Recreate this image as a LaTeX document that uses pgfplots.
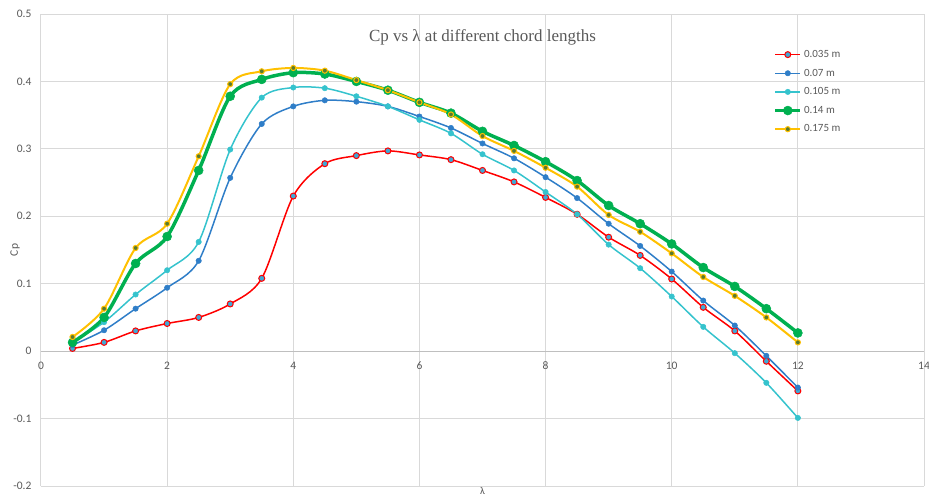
\documentclass[border=0pt]{standalone}
\usepackage{fontspec}
\setmainfont{Carlito}
\newfontfamily\titlefont{Liberation Serif}
\usepackage{pgfplots}
\pgfplotsset{compat=1.18}

\definecolor{sred}{HTML}{FF0000}
\definecolor{sredfill}{HTML}{3FA9D6}
\definecolor{sblue}{HTML}{2F7EC8}
\definecolor{scyan}{HTML}{35C3CD}
\definecolor{sgreen}{HTML}{00B050}
\definecolor{syellow}{HTML}{FFC000}
\definecolor{syellowfill}{HTML}{5A7A2E}
\definecolor{txtgray}{HTML}{595959}
\definecolor{gridgray}{HTML}{D9D9D9}
\definecolor{zerogray}{HTML}{BFBFBF}

\begin{document}
\begin{tikzpicture}
\begin{axis}[
    width=883pt, height=472pt,
    scale only axis,
    at={(0pt,0pt)},
    xmin=0, xmax=14,
    ymin=-0.2, ymax=0.5,
    xtick={0,2,4,6,8,10,12,14},
    ytick={-0.2,-0.1,0,0.1,0.2,0.3,0.4,0.5},
    hide obscured x ticks=false,
    hide obscured y ticks=false,
    axis x line=middle,
    axis y line=left,
    x axis line style={draw=zerogray, line width=1pt, -},
    y axis line style={draw=gridgray, line width=1pt, -},
    major tick length=0pt,
    grid=major,
    major grid style={draw=gridgray, line width=1pt},
    /pgf/number format/assume math mode=true,
    ticklabel style={font=\fontsize{11.5}{13}\selectfont, text=txtgray},
    xticklabel style={yshift=-7pt},
    yticklabel style={xshift=-6pt,
        /pgf/number format/fixed, /pgf/number format/precision=1},
    xlabel={λ},
    ylabel={Cp},
    xlabel style={at={(axis description cs:0.5,0)}, anchor=north,
        font=\fontsize{10.5}{12}\selectfont, text=txtgray, inner sep=1pt},
    ylabel style={at={(axis description cs:-0.0294,0.5)}, anchor=center,
        font=\fontsize{11.5}{13}\selectfont, text=txtgray},
    legend style={at={(axis description cs:0.826,0.932)}, anchor=north west,
        draw=none, fill=none, font=\fontsize{11}{12}\selectfont,
        text=txtgray, row sep=6pt, legend cell align=left},
    legend image code/.code={
        \draw[mark repeat=2, mark phase=2, #1]
            plot coordinates {(0pt,0pt) (12.5pt,0pt) (25pt,0pt)};
    },
]

\addplot[sred, line width=1.5pt, smooth, tension=0.5, mark=*, mark size=3pt,
    mark options={fill=sredfill, draw=sred, line width=1pt}]
table {
0.5 0.004
1 0.013
1.5 0.030
2 0.041
2.5 0.050
3 0.070
3.5 0.108
4 0.230
4.5 0.278
5 0.290
5.5 0.297
6 0.291
6.5 0.284
7 0.268
7.5 0.251
8 0.228
8.5 0.203
9 0.169
9.5 0.142
10 0.107
10.5 0.065
11 0.030
11.5 -0.015
12 -0.059
};
\addlegendentry{0.035 m}

\addplot[sblue, line width=1.5pt, smooth, tension=0.5, mark=*, mark size=2.7pt,
    mark options={fill=sblue, draw=sblue, line width=0.5pt}]
table {
0.5 0.009
1 0.031
1.5 0.063
2 0.094
2.5 0.134
3 0.257
3.5 0.337
4 0.363
4.5 0.372
5 0.370
5.5 0.363
6 0.348
6.5 0.331
7 0.308
7.5 0.286
8 0.258
8.5 0.227
9 0.189
9.5 0.156
10 0.118
10.5 0.075
11 0.038
11.5 -0.007
12 -0.054
};
\addlegendentry{0.07 m}

\addplot[scyan, line width=1.5pt, smooth, tension=0.5, mark=*, mark size=2.7pt,
    mark options={fill=scyan, draw=scyan, line width=0.5pt}]
table {
0.5 0.013
1 0.043
1.5 0.084
2 0.120
2.5 0.162
3 0.299
3.5 0.376
4 0.391
4.5 0.390
5 0.378
5.5 0.363
6 0.343
6.5 0.323
7 0.292
7.5 0.268
8 0.236
8.5 0.203
9 0.158
9.5 0.123
10 0.081
10.5 0.036
11 -0.003
11.5 -0.047
12 -0.099
};
\addlegendentry{0.105 m}

\addplot[sgreen, line width=3.5pt, smooth, tension=0.5, mark=*, mark size=4.5pt,
    mark options={fill=sgreen, draw=sgreen, line width=0.5pt}]
table {
0.5 0.013
1 0.050
1.5 0.130
2 0.170
2.5 0.268
3 0.378
3.5 0.403
4 0.413
4.5 0.411
5 0.400
5.5 0.387
6 0.369
6.5 0.353
7 0.326
7.5 0.305
8 0.281
8.5 0.253
9 0.216
9.5 0.189
10 0.159
10.5 0.124
11 0.096
11.5 0.063
12 0.027
};
\addlegendentry{0.14 m}

\addplot[syellow, line width=2pt, smooth, tension=0.5, mark=*, mark size=2.6pt,
    mark options={fill=syellowfill, draw=syellow, line width=1pt}]
table {
0.5 0.021
1 0.063
1.5 0.153
2 0.189
2.5 0.289
3 0.396
3.5 0.415
4 0.420
4.5 0.416
5 0.402
5.5 0.387
6 0.369
6.5 0.351
7 0.319
7.5 0.297
8 0.272
8.5 0.244
9 0.202
9.5 0.177
10 0.145
10.5 0.110
11 0.082
11.5 0.050
12 0.013
};
\addlegendentry{0.175 m}

\node[font=\titlefont\fontsize{17}{20}\selectfont, text=txtgray]
    at (axis description cs:0.5,0.951) {Cp vs λ at different chord lengths};
\end{axis}
\pgfresetboundingbox
\path[use as bounding box] (-41pt,-13pt) rectangle (888pt,486pt);
\end{tikzpicture}
\end{document}
